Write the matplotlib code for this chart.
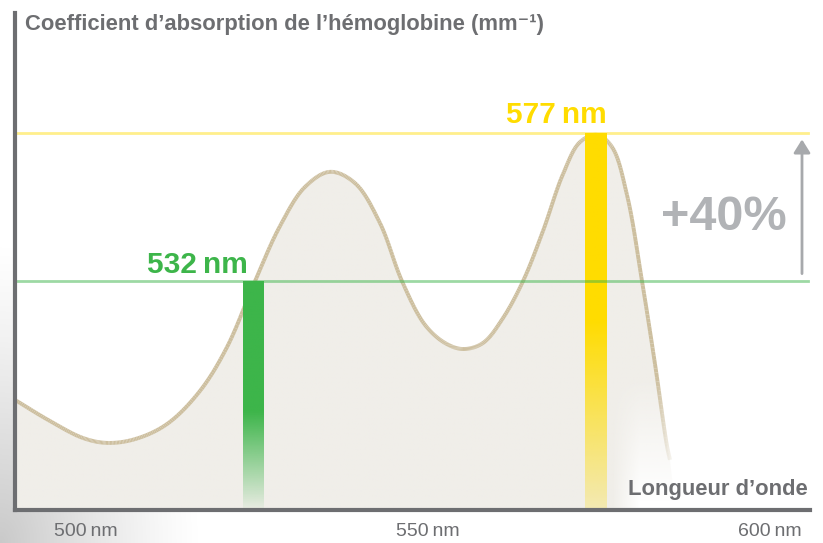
import numpy as np
import matplotlib
matplotlib.use("Agg")
import matplotlib.pyplot as plt
from matplotlib.collections import LineCollection
from matplotlib.patches import Polygon

# ---------------- data (arbitrary absorption units) -------------
wavelength = [489.62, 494.74, 499.56, 503.07, 507.16, 511.84, 516.67, 520.61, 524.71,
              528.36, 532.02, 535.67, 539.33, 542.98, 546.20, 549.56, 552.49, 555.12,
              558.04, 560.96, 563.89, 566.81, 569.74, 572.22, 574.71, 576.90, 579.09,
              581.29, 583.19, 584.94, 585.38]
absorption = [0.292, 0.236, 0.191, 0.178, 0.188, 0.228, 0.316, 0.432, 0.607,
              0.753, 0.857, 0.897, 0.867, 0.761, 0.607, 0.491, 0.443, 0.427,
              0.443, 0.509, 0.607, 0.740, 0.891, 0.976, 0.995, 0.963, 0.836,
              0.607, 0.387, 0.170, 0.133]

laser_labels = ["532\u2009nm", "577\u2009nm"]
laser_x = [524.4, 574.6]          # drawn positions of the bars
laser_level = [0.607, 1.0]        # horizontal reference levels
increase_label = "+40%"

tick_values = [500, 550, 600]
tick_labels = ["500\u2009nm", "550\u2009nm", "600\u2009nm"]

title = "Coefficient d\u2019absorption de l\u2019h\u00e9moglobine (mm\u207b\u00b9)"
xlabel = "Longueur d\u2019onde"

# ---------------- style ---------------------------------------------------------------
FONT = ["Liberation Sans", "DejaVu Sans"]
plt.rcParams["font.family"] = FONT
GRAY = "#6d6e71"
LIGHTGRAY = "#b1b3b6"
GREEN = "#3db54a"
YELLOW = "#ffdc00"
CURVE = "#cdbf9f"
FILL = np.array([240, 238, 233]) / 255.0

W, H = 823, 543
fig = plt.figure(figsize=(W / 100, H / 100), dpi=100)

# background corner shadow
bg = fig.add_axes([0, 0, 1, 1], zorder=0)
bg.set_axis_off()
yy, xx = np.mgrid[0:H, 0:W]
r = np.hypot(xx / 1.0, (H - yy) / 1.5)
a = np.clip(1 - r / 200.0, 0, 1) ** 1.2 * 0.7
img = np.zeros((H, W, 4))
img[..., :3] = 0.70
img[..., 3] = a
bg.imshow(img, extent=[0, W, 0, H], origin="upper", aspect="auto")
bg.set_xlim(0, W)
bg.set_ylim(0, H)

# main axes
x0px, x1px, y0px, y1px = 15, 810, 510, 13
ax = fig.add_axes([x0px / W, (H - y0px) / H, (x1px - x0px) / W, (y0px - y1px) / H], zorder=1)
ax.set_facecolor("white")
xmin, xmax = 489.62, 605.85
ymax = (y0px - y1px) / 377.0
ax.set_xlim(xmin, xmax)
ax.set_ylim(0, ymax)

wl = np.array(wavelength)
ab = np.array(absorption)

# smooth drawing path through the read points (centripetal Catmull-Rom)
def catmull_rom(x, y, sx=6.84, sy=377.0, n=20):
    P = np.column_stack([x * sx, y * sy])
    P = np.vstack([2 * P[0] - P[1], P, 2 * P[-1] - P[-2]])
    out = []
    for i in range(1, len(P) - 2):
        p0, p1, p2, p3 = P[i - 1], P[i], P[i + 1], P[i + 2]
        t0 = 0.0
        t1 = t0 + np.linalg.norm(p1 - p0) ** 0.5
        t2 = t1 + np.linalg.norm(p2 - p1) ** 0.5
        t3 = t2 + np.linalg.norm(p3 - p2) ** 0.5
        ts = np.linspace(t1, t2, n, endpoint=False)[:, None]
        A1 = (t1 - ts) / (t1 - t0) * p0 + (ts - t0) / (t1 - t0) * p1
        A2 = (t2 - ts) / (t2 - t1) * p1 + (ts - t1) / (t2 - t1) * p2
        A3 = (t3 - ts) / (t3 - t2) * p2 + (ts - t2) / (t3 - t2) * p3
        B1 = (t2 - ts) / (t2 - t0) * A1 + (ts - t0) / (t2 - t0) * A2
        B2 = (t3 - ts) / (t3 - t1) * A2 + (ts - t1) / (t3 - t1) * A3
        C = (t2 - ts) / (t2 - t1) * B1 + (ts - t1) / (t2 - t1) * B2
        out.append(C)
    out.append(P[-2][None, :])
    S = np.vstack(out)
    return S[:, 0] / sx, S[:, 1] / sy

sx_, sy_ = catmull_rom(wl, ab)

# fill under the curve (fading at lower right)
fx = np.linspace(xmin, xmax, 600)
fy = np.linspace(0, ymax, 400)
FX, FY = np.meshgrid(fx, fy)
t = np.clip((FX - 577.0) / 4.0, 0, 1)
fade = np.clip((FY - 0.02) / 0.33, 0, 1)
alpha = 1 - t * (1 - fade)
fimg = np.zeros(FX.shape + (4,))
fimg[..., :3] = FILL
fimg[..., 3] = alpha
im = ax.imshow(fimg, extent=[xmin, xmax, 0, ymax], origin="lower", aspect="auto", zorder=1)
verts = [(xmin, 0)] + list(zip(sx_, sy_)) + [(sx_[-1] + 0.8, 0.0)]
poly = Polygon(verts, closed=True, transform=ax.transData, facecolor="none", edgecolor="none")
ax.add_patch(poly)
im.set_clip_path(poly)

# curve line with fading end
pts = np.column_stack([sx_, sy_]).reshape(-1, 1, 2)
segs = np.concatenate([pts[:-1], pts[1:]], axis=1)
seg_alpha = np.clip((sy_[:-1] - 0.08) / 0.28, 0, 1)
seg_alpha[sx_[:-1] < 560] = 1.0
cols = np.array([matplotlib.colors.to_rgba(CURVE, al) for al in seg_alpha])
lc = LineCollection(segs, colors=cols, linewidths=2.8, capstyle="butt", joinstyle="round", zorder=2)
ax.add_collection(lc)

# gradient laser bars
def grad_bar(xc, width, top, color, lo, hi, amin):
    ys = np.linspace(0, top, 300)
    al = np.clip((ys - lo) / (hi - lo), amin, 1)
    arr = np.zeros((300, 1, 4))
    arr[..., :3] = matplotlib.colors.to_rgb(color)
    arr[..., 0, 3] = al
    ax.imshow(arr, extent=[xc - width / 2, xc + width / 2, 0, top], origin="lower",
              aspect="auto", zorder=3)

grad_bar(laser_x[0], 2.95, laser_level[0], GREEN, -0.01, 0.26, 0.0)
grad_bar(laser_x[1], 3.2, laser_level[1], YELLOW, -0.15, 0.50, 0.0)

# horizontal reference lines
ax.axhline(laser_level[0], xmin=0, xmax=0.997, color=GREEN, alpha=0.5, lw=2.0, zorder=4)
ax.axhline(laser_level[1], xmin=0, xmax=0.997, color=YELLOW, alpha=0.45, lw=2.0, zorder=4)

ax.set_xlim(xmin, xmax)
ax.set_ylim(0, ymax)

# arrow +40%
ax.annotate("", xy=(604.68, 0.983), xytext=(604.68, laser_level[0] + 0.02),
            arrowprops=dict(arrowstyle="-|>,head_length=0.8,head_width=0.5",
                            color="#a7a9ac", lw=2.0, shrinkA=0, shrinkB=0), zorder=5)
ax.text(593.3, 0.743, increase_label, ha="center", va="baseline", fontsize=35,
        fontweight="bold", color=LIGHTGRAY, zorder=5)

# laser labels
ax.text(523.6, 0.629, laser_labels[0], ha="right", va="baseline", fontsize=21.5,
        fontweight="bold", color=GREEN, zorder=5)
ax.text(576.2, 1.027, laser_labels[1], ha="right", va="baseline", fontsize=21.5,
        fontweight="bold", color=YELLOW, zorder=5)

# axis label
ax.text(605.56, 0.040, xlabel, ha="right", va="baseline", fontsize=15.8,
        fontweight="bold", color=GRAY, zorder=5)

# spines and ticks
for s in ["top", "right"]:
    ax.spines[s].set_visible(False)
for s in ["left", "bottom"]:
    ax.spines[s].set_color(GRAY)
    ax.spines[s].set_linewidth(3.0)
    ax.spines[s].set_zorder(6)
ax.set_yticks([])
ax.set_xticks(tick_values)
ax.set_xticklabels(tick_labels, fontsize=14, color=GRAY)
ax.tick_params(axis="x", length=0, pad=9)

fig.text(25 / W, 1 - 30 / H, title, ha="left", va="baseline", fontsize=15.8,
         fontweight="bold", color=GRAY)

fig.savefig("out.png", dpi=100)
